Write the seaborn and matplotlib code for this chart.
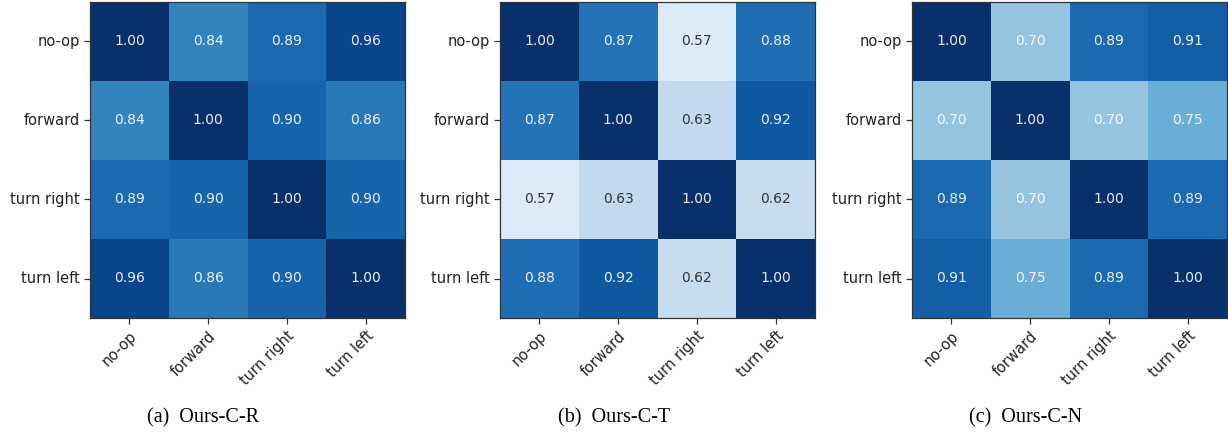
import numpy as np
import pandas as pd
import matplotlib
matplotlib.use("Agg")
import matplotlib.pyplot as plt
import seaborn as sns

plt.rcParams["font.family"] = ["DejaVu Sans"]

actions = ["no-op", "forward", "turn right", "turn left"]

sim_r = [[1.00, 0.84, 0.89, 0.96],
         [0.84, 1.00, 0.90, 0.86],
         [0.89, 0.90, 1.00, 0.90],
         [0.96, 0.86, 0.90, 1.00]]

sim_t = [[1.00, 0.87, 0.57, 0.88],
         [0.87, 1.00, 0.63, 0.92],
         [0.57, 0.63, 1.00, 0.62],
         [0.88, 0.92, 0.62, 1.00]]

sim_n = [[1.00, 0.70, 0.89, 0.91],
         [0.70, 1.00, 0.70, 0.75],
         [0.89, 0.70, 1.00, 0.89],
         [0.91, 0.75, 0.89, 1.00]]

captions = ["(a)  Ours-C-R", "(b)  Ours-C-T", "(c)  Ours-C-N"]
matrices = [sim_r, sim_t, sim_n]

fig = plt.figure(figsize=(12.28, 4.32), dpi=100)
lefts = [90, 500, 912]
cap_x = [203, 614, 1026]

for left, cx, mat, cap in zip(lefts, cap_x, matrices, captions):
    ax = fig.add_axes([left / 1228, 114 / 432, 315 / 1228, 316 / 432])
    df = pd.DataFrame(mat, index=actions, columns=actions)
    sns.heatmap(df, ax=ax, cmap="Blues", vmin=0.5, vmax=1.0, cbar=False,
                annot=True, fmt=".2f", square=False,
                annot_kws={"fontsize": 10})
    # text colour: white on dark cells, black on light ones
    vals = np.array(mat).ravel()
    for t, v in zip(ax.texts, vals):
        t.set_color("white" if v >= 0.66 else "#222222")
        t.set_alpha(0.9)
    for s in ax.spines.values():
        s.set_visible(True)
        s.set_color("#333333")
        s.set_linewidth(0.9)
    ax.tick_params(axis="both", length=4, width=0.9, color="#333333",
                   labelsize=10.5, labelcolor="#222222")
    ax.set_yticklabels(actions, rotation=0)
    ax.set_xticklabels(actions, rotation=45, ha="right", rotation_mode="anchor")
    ax.set_xlabel("")
    ax.set_ylabel("")
    fig.text(cx / 1228, 1 - 418 / 432, cap, ha="center", va="center",
             fontsize=14.5, family="Liberation Serif")

fig.savefig("out.png", dpi=100)
